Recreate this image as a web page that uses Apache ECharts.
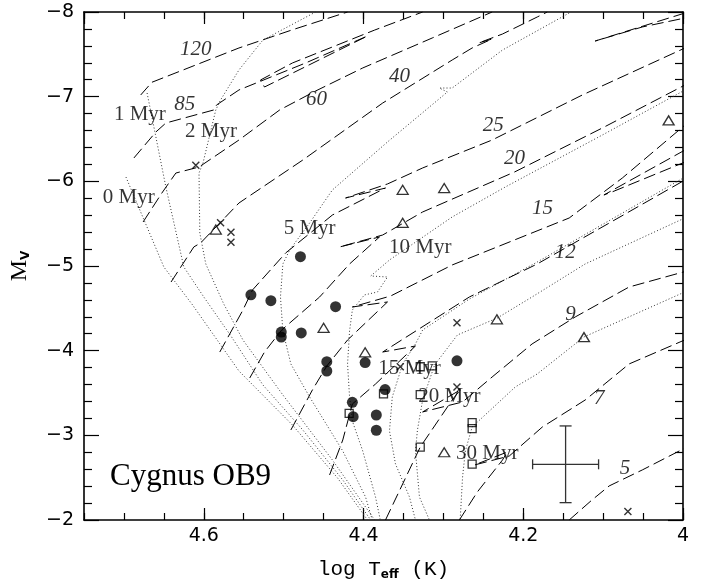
<!DOCTYPE html>
<html><head><meta charset="utf-8">
<script src="https://cdn.jsdelivr.net/npm/echarts@6/dist/echarts.min.js"></script>
<style>html,body{margin:0;padding:0;background:#fff}#c{width:711px;height:588px}</style>
</head><body><div id="c"></div>
<script>
// ---- evolutionary tracks (log Teff, M_V) ----
const T120 = [[4.679,-7.02],[4.665,-7.17],[4.556,-7.575],[4.489,-7.79],[4.42,-8.0]];
const T85 = [[4.6875,-6.276],[4.66,-6.583],[4.6475,-6.689],[4.5875,-6.843],[4.584,-6.902],[4.556,-7.079],[4.4725,-7.398],[4.395,-7.717],[4.524,-7.114],[4.529,-7.197],[4.489,-7.398],[4.386,-7.787],[4.326,-8.0]];
const T60 = [[4.676,-5.52],[4.6525,-5.862],[4.635,-6.098],[4.606,-6.169],[4.556,-6.488],[4.505,-6.843],[4.46,-7.067],[4.401,-7.339],[4.314,-7.693],[4.239,-8.0]];
const T40 = [[4.641,-4.811],[4.6125,-5.225],[4.604,-5.272],[4.556,-5.744],[4.476,-6.252],[4.376,-6.925],[4.289,-7.433],[4.264,-7.575],[4.239,-7.681],[4.256,-7.634],[4.226,-7.74],[4.1825,-7.941],[4.17,-8.0]];
const T25 = [[4.58,-3.984],[4.551,-4.48],[4.539,-4.717],[4.4975,-5.154],[4.439,-5.602],[4.3725,-5.921],[4.4225,-5.803],[4.37,-5.969],[4.326,-6.158],[4.239,-6.488],[4.126,-7.02],[3.9975,-7.575]];
const T25loop = [[3.9975,-7.988],[4.11,-7.657],[4.051,-7.823],[3.9975,-7.929]];
const T20 = [[4.5425,-3.677],[4.524,-3.984],[4.5025,-4.244],[4.455,-4.634],[4.4175,-5.024],[4.38,-5.343],[4.43,-5.225],[4.376,-5.366],[4.326,-5.638],[4.211,-6.11],[4.101,-6.63],[3.9975,-7.138]];
const T15 = [[4.491,-3.063],[4.464,-3.536],[4.446,-3.819],[4.42,-4.126],[4.37,-4.575],[4.414,-4.516],[4.366,-4.646],[4.289,-5.012],[4.1425,-5.567],[4.076,-6.039],[3.9975,-6.665]];
const T15loop = [[3.9975,-6.37],[4.099,-5.839],[4.089,-5.874],[3.9975,-6.228]];
const T12 = [[4.4425,-2.532],[4.426,-2.945],[4.414,-3.37],[4.385,-3.606],[4.335,-4.055],[4.376,-3.984],[4.2675,-4.634],[4.1825,-5.024],[3.9975,-6.016]];
const T9 = [[4.3725,-2.0],[4.329,-2.862],[4.289,-3.417],[4.279,-3.536],[4.326,-3.276],[4.276,-3.394],[4.239,-3.689],[4.189,-4.079],[4.135,-4.398],[4.0675,-4.752],[3.995,-4.941]];
const T7 = [[4.28,-2.0],[4.2575,-2.331],[4.226,-2.709],[4.22,-2.803],[4.261,-2.65],[4.2175,-2.756],[4.176,-3.099],[4.1225,-3.417],[4.0675,-3.843],[3.995,-4.138]];
const T5 = [[4.1425,-2.0],[4.114,-2.236],[4.0925,-2.402],[4.051,-2.591],[3.995,-2.862]];

// ---- isochrones ----
const ISO0 = [[4.6975,-6.051],[4.65,-4.988],[4.614,-4.539],[4.556,-3.76],[4.489,-3.122],[4.4325,-2.496],[4.395,-2.0]];
const ISO1 = [[4.671,-7.043],[4.66,-6.524],[4.6475,-5.933],[4.625,-4.988],[4.6,-4.634],[4.566,-4.173],[4.526,-3.595],[4.476,-3.063],[4.426,-2.473],[4.391,-2.0]];
const ISO2 = [[4.46,-8.0],[4.526,-7.669],[4.556,-7.315],[4.579,-6.961],[4.585,-6.843],[4.601,-6.217],[4.606,-6.098],[4.605,-5.39],[4.5975,-5.024],[4.575,-4.551],[4.551,-4.126],[4.501,-3.477],[4.439,-2.709],[4.386,-2.0]];
const ISO5 = [[4.1425,-7.988],[4.226,-7.551],[4.289,-7.102],[4.305,-7.102],[4.295,-7.055],[4.37,-6.465],[4.439,-5.898],[4.4675,-5.508],[4.4925,-5.189],[4.501,-5.024],[4.504,-4.634],[4.501,-4.232],[4.491,-3.843],[4.4675,-3.453],[4.426,-2.815],[4.3975,-2.272],[4.389,-2.0]];
const ISO10 = [[3.9975,-7.079],[4.101,-6.547],[4.2225,-5.933],[4.289,-5.579],[4.3675,-5.071],[4.391,-4.882],[4.37,-4.87],[4.3825,-4.693],[4.399,-4.658],[4.414,-4.48],[4.4175,-4.232],[4.42,-3.843],[4.4175,-3.453],[4.414,-3.169],[4.401,-2.815],[4.385,-2.272],[4.379,-2.0]];
const ISO15 = [[3.9975,-6.051],[4.1825,-5.047],[4.2675,-4.61],[4.326,-4.244],[4.335,-4.079],[4.351,-3.843],[4.364,-3.453],[4.3675,-3.051],[4.36,-2.662],[4.3425,-2.272],[4.335,-2.0]];
const ISO20 = [[3.995,-5.579],[4.1225,-5.024],[4.189,-4.634],[4.2325,-4.386],[4.2825,-4.185],[4.311,-3.831],[4.326,-3.417],[4.3325,-3.063],[4.335,-2.815],[4.33,-2.272],[4.3175,-2.0]];
const ISO30 = [[3.995,-4.705],[4.124,-4.162],[4.1825,-3.725],[4.21,-3.571],[4.264,-3.099],[4.2725,-2.815],[4.276,-2.508],[4.279,-2.0]];

// ---- stars ----
const filledCircles = [[4.479,-5.11],[4.541,-4.66],[4.516,-4.59],[4.435,-4.52],[4.503,-4.22],[4.503,-4.16],[4.478,-4.21],[4.446,-3.87],[4.446,-3.76],[4.398,-3.86],[4.373,-3.54],[4.414,-3.39],[4.413,-3.22],[4.384,-3.24],[4.384,-3.06],[4.283,-3.88]];
const openTriangles = [[4.585,-5.43],[4.45,-4.27],[4.398,-3.98],[4.351,-5.90],[4.299,-5.92],[4.351,-5.51],[4.233,-4.37],[4.124,-4.16],[4.018,-6.72],[4.299,-2.80]];
const openSquares = [[4.418,-3.26],[4.375,-3.49],[4.329,-3.81],[4.314,-3.82],[4.329,-3.48],[4.264,-3.15],[4.264,-3.08],[4.329,-2.86],[4.264,-2.66]];
const crosses = [[4.61,-6.19],[4.579,-5.51],[4.566,-5.40],[4.566,-5.28],[4.354,-3.81],[4.283,-4.33],[4.283,-3.57],[4.069,-2.10]];

// ---- typical error bar ----
const errCenter = [4.147, -2.658];
const errHalf = [0.0413, 0.453];

// ---- text labels ----
const ageLabels = [['0 Myr',4.694,-5.815],['1 Myr',4.68,-6.795],['2 Myr',4.591,-6.583],['5 Myr',4.4675,-5.449],['10 Myr',4.329,-5.213],['15 Myr',4.3425,-3.784],['20 Myr',4.2925,-3.453],['30 Myr',4.245,-2.78]];
const massLabels = [['120',4.61,-7.563],['85',4.624,-6.913],['60',4.459,-6.961],['40',4.355,-7.244],['25',4.2375,-6.654],['20',4.211,-6.264],['15',4.176,-5.685],['12',4.1475,-5.165],['9',4.141,-4.433],['7',4.105,-3.441],['5',4.0725,-2.603]];
const xTicks = [4.0, 4.75, 0.2, 0.05];
const yTicks = [-8, -2, 1, 5];

const chart = echarts.init(document.getElementById('c'), null, {renderer: 'canvas'});

const tracks = [T120, T85, T60, T40, T25, T25loop, T20, T15, T15loop, T12, T9, T7, T5];
const isos = [ISO0, ISO1, ISO2, ISO5, ISO10, ISO15, ISO20, ISO30];

const series = [];
isos.forEach(d => series.push({type:'line', data:d, showSymbol:false, symbol:'none', silent:true, z:2,
  lineStyle:{color:'#333', width:1, type:[1,2.2]}}));
tracks.forEach(d => series.push({type:'line', data:d, showSymbol:false, symbol:'none', silent:true, z:3,
  lineStyle:{color:'#000', width:1, type:[12,5]}}));

series.push({type:'scatter', data:filledCircles, symbol:'circle', symbolSize:11, z:5,
  itemStyle:{color:'#000'}});
series.push({type:'scatter', data:openTriangles, symbol:'triangle', symbolSize:[11,9], z:5,
  itemStyle:{color:'rgba(255,255,255,0)', borderColor:'#000', borderWidth:1.3}});
series.push({type:'scatter', data:openSquares, symbol:'rect', symbolSize:8, z:5,
  itemStyle:{color:'rgba(255,255,255,0)', borderColor:'#000', borderWidth:1.3}});
series.push({type:'scatter', data:crosses, symbol:'path://M0,0L10,10M10,0L0,10', symbolSize:7, z:5,
  itemStyle:{color:'rgba(0,0,0,0)', borderColor:'#000', borderWidth:1.4}});

series.push({type:'custom', z:5, silent:true, data:[[errCenter[0], errCenter[1], errHalf[0], errHalf[1]]],
  renderItem:function(params, api){
    const x=api.value(0), y=api.value(1), dx=api.value(2), dy=api.value(3);
    const l=api.coord([x+dx,y]), r=api.coord([x-dx,y]), t=api.coord([x,y-dy]), b=api.coord([x,y+dy]);
    const st={stroke:'#333', lineWidth:1.3};
    return {type:'group', children:[
      {type:'line', shape:{x1:l[0],y1:l[1],x2:r[0],y2:r[1]}, style:st},
      {type:'line', shape:{x1:t[0],y1:t[1],x2:b[0],y2:b[1]}, style:st},
      {type:'line', shape:{x1:t[0]-6,y1:t[1],x2:t[0]+6,y2:t[1]}, style:st},
      {type:'line', shape:{x1:b[0]-6,y1:b[1],x2:b[0]+6,y2:b[1]}, style:st},
      {type:'line', shape:{x1:l[0],y1:l[1]-5,x2:l[0],y2:l[1]+5}, style:st},
      {type:'line', shape:{x1:r[0],y1:r[1]-5,x2:r[0],y2:r[1]+5}, style:st}
    ]};
  }});

series.push({type:'scatter', z:8, silent:true, symbol:'circle', symbolSize:1, itemStyle:{color:'rgba(0,0,0,0)'},
  data: ageLabels.map(a => ({name:a[0], value:[a[1], a[2]]})),
  label:{show:true, position:'inside', formatter:p=>p.name, color:'#000',
    fontFamily:'"Liberation Serif", serif', fontSize:21}});
series.push({type:'scatter', z:8, silent:true, symbol:'circle', symbolSize:1, itemStyle:{color:'rgba(0,0,0,0)'},
  data: massLabels.map(a => ({name:a[0], value:[a[1], a[2]]})),
  label:{show:true, position:'inside', formatter:p=>p.name, color:'#000',
    fontFamily:'"Liberation Serif", serif', fontStyle:'italic', fontSize:21}});

const axLine = {show:true, onZero:false, lineStyle:{color:'#000', width:1.6}};
const tickStyle = {color:'#000', width:1.2};
const xBase = {type:'value', min:xTicks[0], max:xTicks[1], inverse:true, splitLine:{show:false}};
const yBase = {type:'value', min:yTicks[0], max:yTicks[1], inverse:true, interval:yTicks[2], splitLine:{show:false},
  minorTick:{show:true, splitNumber:yTicks[3], length:8, lineStyle:tickStyle}};

const option = {
  animation:false,
  backgroundColor:'#fff',
  grid:{left:81, right:28, top:12, bottom:68, containLabel:false},
  xAxis:[
    Object.assign({}, xBase, {position:'bottom', interval:xTicks[2], axisLine:axLine,
      axisTick:{inside:true, length:12, lineStyle:tickStyle},
      axisLabel:{color:'#000', fontFamily:'"DejaVu Sans", sans-serif', fontSize:19, margin:7, showMaxLabel:false,
        formatter:v=>String(Math.round(v*100)/100)},
      name:'{a|log T}{s|eff}{a| (K)}', nameLocation:'middle', nameGap:37,
      nameTextStyle:{rich:{a:{fontFamily:'"Liberation Mono", monospace', fontSize:21, color:'#000'},
        s:{fontFamily:'"DejaVu Sans", sans-serif', fontWeight:'bold', fontSize:12, color:'#000', padding:[12,0,0,0]}}}}),
    Object.assign({}, xBase, {position:'bottom', interval:xTicks[3], axisLine:{show:false},
      axisTick:{inside:true, length:7, lineStyle:tickStyle}, axisLabel:{show:false}}),
    Object.assign({}, xBase, {position:'top', interval:xTicks[2], axisLine:axLine,
      axisTick:{inside:true, length:12, lineStyle:tickStyle}, axisLabel:{show:false}}),
    Object.assign({}, xBase, {position:'top', interval:xTicks[3], axisLine:{show:false},
      axisTick:{inside:true, length:7, lineStyle:tickStyle}, axisLabel:{show:false}})
  ],
  yAxis:[
    Object.assign({}, yBase, {position:'left', axisLine:axLine,
      axisTick:{inside:true, length:15, lineStyle:tickStyle},
      axisLabel:{color:'#000', fontFamily:'"DejaVu Sans", sans-serif', fontSize:19, margin:10,
        formatter:v=>(v<0?'\u2212':'')+Math.abs(v)},
      name:'{a|M}{s|V}', nameLocation:'middle', nameGap:52,
      nameTextStyle:{rich:{a:{fontFamily:'"Liberation Serif", serif', fontSize:24, color:'#000'},
        s:{fontFamily:'"DejaVu Sans", sans-serif', fontWeight:'bold', fontSize:12, color:'#000', padding:[12,0,0,0]}}}}),
    Object.assign({}, yBase, {position:'right', axisLine:axLine,
      axisTick:{inside:true, length:15, lineStyle:tickStyle}, axisLabel:{show:false}})
  ],
  graphic:[{type:'text', left:110, top:461, z:10,
    style:{text:'Cygnus OB9', font:'31px "Liberation Serif", serif', fill:'#000'}}],
  series: series
};
chart.setOption(option);
</script>
</body></html>
